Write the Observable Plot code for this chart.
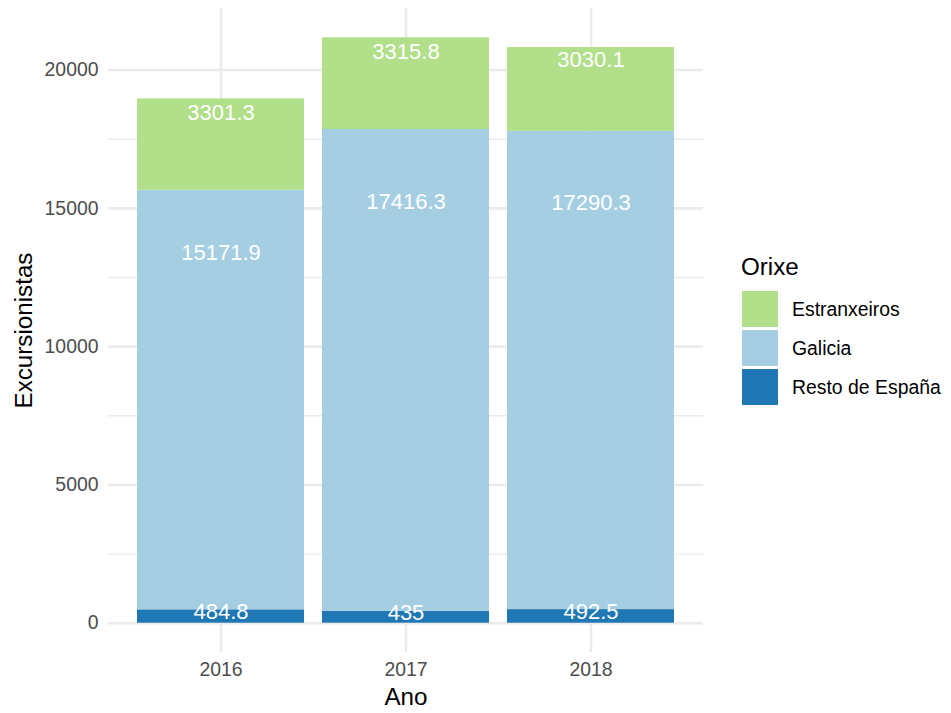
<!DOCTYPE html>
<html>
<head>
<meta charset="utf-8">
<script src="https://cdn.jsdelivr.net/npm/d3@7"></script>
<script src="https://cdn.jsdelivr.net/npm/@observablehq/plot@0.6"></script>
<style>
  body { margin: 0; background: #fff; }
  #wrap { position: relative; width: 951px; height: 713px; font-family: "Liberation Sans", Arial, Helvetica, sans-serif; }
  #legend { position: absolute; left: 0; top: 0; }
  .ltitle { position: absolute; left: 741px; top: 254.5px; font-size: 24.2px; line-height: 24px; color: #000; white-space: nowrap; }
  .lrow { position: absolute; left: 742px; height: 36px; display: flex; align-items: center; white-space: nowrap; }
  .lsw { width: 36px; height: 36px; }
  .llab { margin-left: 14px; font-size: 19.4px; color: #000; }
</style>
</head>
<body>
<div id="wrap"><div id="chart"></div><div id="legend"></div></div>
<script>
// ---- data ----
const years = ["2016", "2017", "2018"];
const orixe = ["Estranxeiros", "Galicia", "Resto de España"];
const colors = ["#B2DF8A", "#A6CEE3", "#1F78B4"];
const estranxeiros = [3301.3, 3315.8, 3030.1];
const galicia = [15171.9, 17416.3, 17290.3];
const resto = [484.8, 435, 492.5];
const yTicks = [0, 5000, 10000, 15000, 20000];
const yMinor = [2500, 7500, 12500, 17500];

// ---- table (stacking order: bottom -> top) ----
const rows = [];
const labels = [];
years.forEach((ano, i) => {
  const parts = [["Resto de España", resto[i]], ["Galicia", galicia[i]], ["Estranxeiros", estranxeiros[i]]];
  let lo = 0;
  for (const [o, v] of parts) {
    rows.push({ano, orixe: o, value: v});
    labels.push({ano, orixe: o, value: v, ly: lo + 0.85 * v, label: String(v)});
    lo += v;
  }
});
const totals = years.map((_, i) => estranxeiros[i] + galicia[i] + resto[i]);
const ymax = d3.max(totals);
const pad = ymax * 0.05;

const font = '"Liberation Sans", Arial, Helvetica, sans-serif';

const chart = Plot.plot({
  width: 951,
  height: 713,
  marginLeft: 108,
  marginRight: 248,
  marginTop: 8,
  marginBottom: 61,
  style: {fontFamily: font, background: "white", overflow: "visible"},
  x: {domain: years, paddingInner: 0.1, paddingOuter: 0.15, label: null},
  y: {domain: [-pad, ymax + pad], label: null},
  color: {domain: orixe, range: colors},
  marks: [
    Plot.gridY(yMinor, {stroke: "#EBEBEB", strokeOpacity: 1, strokeWidth: 1.4}),
    Plot.gridY(yTicks, {stroke: "#EBEBEB", strokeOpacity: 1, strokeWidth: 2.6}),
    Plot.gridX({stroke: "#EBEBEB", strokeOpacity: 1, strokeWidth: 2.6}),
    Plot.barY(rows, Plot.stackY({x: "ano", y: "value", fill: "orixe"})),
    Plot.text(labels, {x: "ano", y: "ly", text: "label", fill: "white", fontSize: 22, lineAnchor: "middle"}),
    Plot.axisY(yTicks, {tickSize: 0, tickPadding: 10, fontSize: 19.4, fill: "#4D4D4D", tickFormat: d3.format("d"), label: null}),
    Plot.axisX({tickSize: 0, tickPadding: 10, fontSize: 19.4, fill: "#4D4D4D", label: null}),
    Plot.text(["Ano"], {frameAnchor: "bottom", dy: 45, text: d => d, fontSize: 24.2, fill: "black", lineAnchor: "middle"}),
    Plot.text(["Excursionistas"], {frameAnchor: "left", dx: -84, rotate: -90, text: d => d, fontSize: 24.2, fill: "black", lineAnchor: "middle", textAnchor: "middle"})
  ]
});
document.getElementById("chart").appendChild(chart);

// ---- legend ----
const legend = document.getElementById("legend");
const t = document.createElement("div");
t.className = "ltitle";
t.textContent = "Orixe";
legend.appendChild(t);
orixe.forEach((o, i) => {
  const r = document.createElement("div");
  r.className = "lrow";
  r.style.top = (291 + i * 39) + "px";
  const sw = document.createElement("div");
  sw.className = "lsw";
  sw.style.background = colors[i];
  const lab = document.createElement("div");
  lab.className = "llab";
  lab.textContent = o;
  r.appendChild(sw);
  r.appendChild(lab);
  legend.appendChild(r);
});
</script>
</body>
</html>
